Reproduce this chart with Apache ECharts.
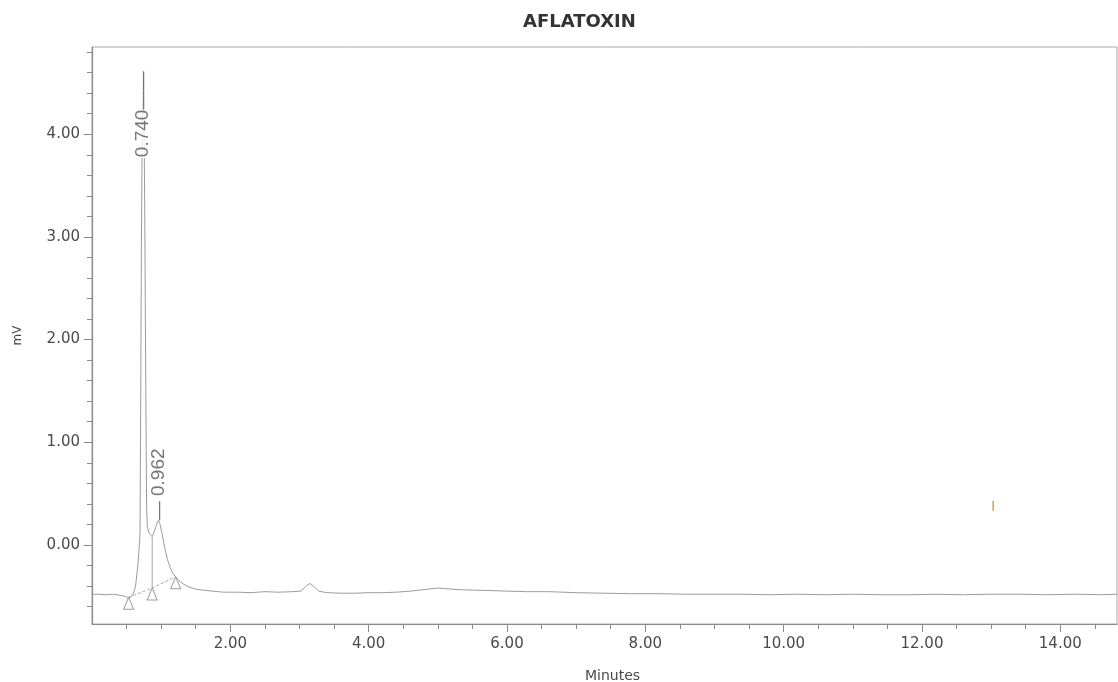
<!DOCTYPE html>
<html>
<head>
<meta charset="utf-8">
<style>
html,body{margin:0;padding:0;background:#fff;}
#chart{width:1118px;height:682px;}
</style>
<script src="https://cdn.jsdelivr.net/npm/echarts@6/dist/echarts.min.js"></script>
</head>
<body>
<div id="chart"></div>
<script>
// ---- data ----
const traceTimes = [0.00,0.10,0.20,0.30,0.40,0.48,0.53,0.57,0.60,0.63,0.66,0.69,0.695,0.705,0.715,0.728,0.74,0.752,0.765,0.778,0.79,0.80,0.82,0.845,0.87,0.89,0.92,0.945,0.962,0.98,1.01,1.05,1.09,1.13,1.17,1.21,1.26,1.32,1.40,1.50,1.60,1.75,1.90,2.10,2.30,2.50,2.70,2.90,3.02,3.10,3.15,3.20,3.28,3.40,3.60,3.80,4.00,4.20,4.40,4.60,4.80,5.00,5.10,5.30,5.50,5.80,6.00,6.30,6.60,7.00,7.40,7.80,8.20,8.60,9.00,9.40,9.80,10.20,10.60,11.00,11.40,11.80,12.20,12.60,13.00,13.40,13.80,14.20,14.60,14.82];
const traceValues = [-0.48,-0.48,-0.485,-0.48,-0.49,-0.50,-0.52,-0.50,-0.47,-0.40,-0.22,0.05,0.15,1.50,3.00,4.20,4.62,4.20,3.00,1.50,0.35,0.18,0.12,0.10,0.08,0.11,0.17,0.22,0.24,0.21,0.12,-0.02,-0.14,-0.22,-0.28,-0.31,-0.35,-0.38,-0.41,-0.43,-0.44,-0.45,-0.46,-0.46,-0.465,-0.455,-0.46,-0.455,-0.45,-0.40,-0.375,-0.40,-0.45,-0.465,-0.47,-0.47,-0.465,-0.465,-0.46,-0.45,-0.435,-0.42,-0.425,-0.435,-0.44,-0.445,-0.45,-0.455,-0.455,-0.465,-0.47,-0.475,-0.475,-0.48,-0.48,-0.48,-0.485,-0.48,-0.485,-0.48,-0.485,-0.485,-0.48,-0.485,-0.48,-0.48,-0.485,-0.48,-0.485,-0.48];

const peakTimes = [0.740, 0.962];
const peakHeights = [4.62, 0.24];
const peakNames = ['0.740', '0.962'];

const baselineTimes = [0.53, 0.87, 1.21];
const baselineValues = [-0.51, -0.42, -0.31];

const dropTimes = [0.87, 0.87];
const dropValues = [0.08, -0.42];

const artifactTimes = [13.03, 13.03];
const artifactValues = [0.43, 0.33];

const xMajorTicks = [2, 4, 6, 8, 10, 12, 14];
const xMinorTicks = [0.5,1,1.5,2.5,3,3.5,4.5,5,5.5,6.5,7,7.5,8.5,9,9.5,10.5,11,11.5,12.5,13,13.5,14.5];
const yMajorTicks = [0, 1, 2, 3, 4];
const yMinorTicks = [-0.6,-0.4,-0.2,0.2,0.4,0.6,0.8,1.2,1.4,1.6,1.8,2.2,2.4,2.6,2.8,3.2,3.4,3.6,3.8,4.2,4.4,4.6,4.8];

const X_MIN = 0, X_MAX = 14.82, Y_MIN = -0.77, Y_MAX = 4.85;

// ---- chart ----
const zip = (a, b) => a.map((v, i) => [v, b[i]]);
const axisColor = '#8a8a8a';
const textColor = '#4a4a4a';
const font = 'DejaVu Sans';

const chart = echarts.init(document.getElementById('chart'));
const option = {
  animation: false,
  backgroundColor: '#fff',
  title: {
    text: 'AFLATOXIN', left: 518, top: 8,
    textStyle: { fontFamily: font, fontSize: 18, fontWeight: 'bold', color: '#333' }
  },
  grid: { left: 92, right: 1, top: 47, bottom: 58, outerBoundsMode: 'none', containLabel: false,
          show: true, borderColor: '#a8a8a8', borderWidth: 1 },
  xAxis: [
    {
      type: 'value', min: X_MIN, max: X_MAX, position: 'bottom',
      axisLine: { show: true, onZero: false, lineStyle: { color: axisColor, width: 1.2 } },
      axisTick: { show: true, customValues: xMajorTicks, length: 8, lineStyle: { color: axisColor } },
      axisLabel: { customValues: xMajorTicks, formatter: v => v.toFixed(2), fontFamily: font, fontSize: 15, color: textColor, margin: 13 },
      splitLine: { show: false },
      name: 'Minutes', nameLocation: 'middle', nameGap: 45,
      nameTextStyle: { fontFamily: font, fontSize: 14, color: textColor, padding: [0, 0, 0, 16] }
    },
    {
      type: 'value', min: X_MIN, max: X_MAX, position: 'bottom', offset: 0,
      axisLine: { show: false, onZero: false },
      axisTick: { show: true, customValues: xMinorTicks, length: 5, lineStyle: { color: axisColor } },
      axisLabel: { show: false },
      splitLine: { show: false }
    }
  ],
  yAxis: [
    {
      type: 'value', min: Y_MIN, max: Y_MAX, position: 'left',
      axisLine: { show: true, onZero: false, lineStyle: { color: axisColor, width: 1.2 } },
      axisTick: { show: true, customValues: yMajorTicks, length: 8, lineStyle: { color: axisColor } },
      axisLabel: { customValues: yMajorTicks, formatter: v => v.toFixed(2), fontFamily: font, fontSize: 15, color: textColor, margin: 12 },
      splitLine: { show: false },
      name: 'mV', nameLocation: 'middle', nameRotate: 90, nameGap: 68,
      nameTextStyle: { fontFamily: font, fontSize: 12, color: textColor }
    },
    {
      type: 'value', min: Y_MIN, max: Y_MAX, position: 'left', offset: 0,
      axisLine: { show: false, onZero: false },
      axisTick: { show: true, customValues: yMinorTicks, length: 5, lineStyle: { color: axisColor } },
      axisLabel: { show: false },
      splitLine: { show: false }
    }
  ],
  series: [
    {
      name: 'trace', type: 'line', xAxisIndex: 0, yAxisIndex: 0,
      data: zip(traceTimes, traceValues),
      showSymbol: false, symbol: 'none',
      lineStyle: { color: '#9c9c9c', width: 1 }, z: 2
    },
    {
      name: 'integration', type: 'line', xAxisIndex: 0, yAxisIndex: 0,
      data: zip(baselineTimes, baselineValues),
      symbol: 'triangle', symbolSize: [10, 12], symbolOffset: [0, '50%'], showSymbol: true,
      itemStyle: { color: 'rgba(255,255,255,0)', borderColor: '#9c9c9c', borderWidth: 1 },
      lineStyle: { color: '#a8a8a8', width: 1, type: [3, 2] }, z: 3
    },
    {
      name: 'drop', type: 'line', xAxisIndex: 0, yAxisIndex: 0,
      data: zip(dropTimes, dropValues),
      symbol: 'none', lineStyle: { color: '#a8a8a8', width: 1 }, z: 3
    },
    {
      name: 'artifact', type: 'line', xAxisIndex: 0, yAxisIndex: 0,
      data: zip(artifactTimes, artifactValues),
      symbol: 'none', lineStyle: { color: '#d9a04a', width: 1.5 }, z: 3
    },
    {
      name: 'peaks', type: 'scatter', xAxisIndex: 0, yAxisIndex: 0,
      symbol: 'circle', symbolSize: 1,
      itemStyle: { color: 'rgba(0,0,0,0)' },
      label: {
        show: true, position: 'inside', distance: 0, rotate: 90, verticalAlign: 'middle',
        fontFamily: 'Liberation Sans', fontSize: 19, color: '#555'
      },
      data: peakTimes.map((t, i) => ({
        value: [t, peakHeights[i]],
        label: i === 0
          ? { formatter: peakNames[i] + '\u2014\u2014', align: 'right', backgroundColor: '#fff', padding: [0, 1] }
          : { formatter: '\u2014 ' + peakNames[i], align: 'left' }
      })),
      z: 5
    }
  ]
};
chart.setOption(option);
</script>
</body>
</html>
